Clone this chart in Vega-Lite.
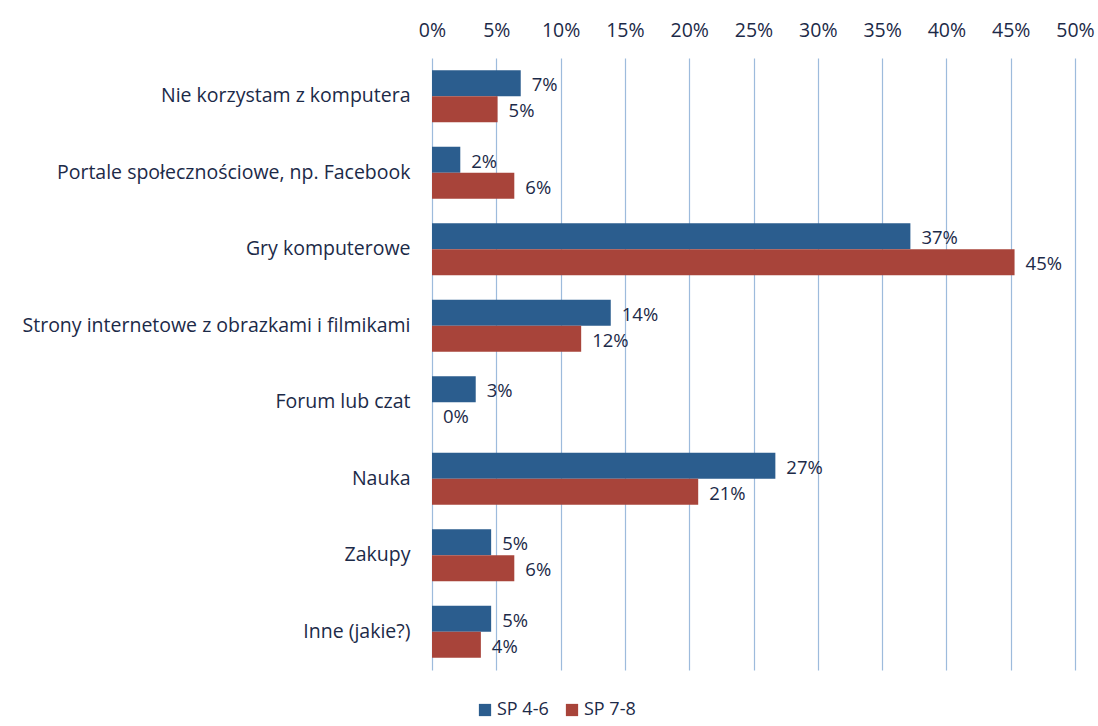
{
  "$schema": "https://vega.github.io/schema/vega-lite/v6.json",
  "width": 643,
  "height": 612,
  "autosize": {"type": "none"},
  "padding": {"left": 432, "top": 58, "right": 23, "bottom": 56},
  "background": "white",
  "config": {
    "view": {"stroke": null},
    "font": "Open Sans"
  },
  "data": {
    "values": [
      {"kategoria": "Nie korzystam z komputera", "grupa": "SP 4-6", "wartosc": 0.069},
      {"kategoria": "Nie korzystam z komputera", "grupa": "SP 7-8", "wartosc": 0.051},
      {"kategoria": "Portale społecznościowe, np. Facebook", "grupa": "SP 4-6", "wartosc": 0.022},
      {"kategoria": "Portale społecznościowe, np. Facebook", "grupa": "SP 7-8", "wartosc": 0.064},
      {"kategoria": "Gry komputerowe", "grupa": "SP 4-6", "wartosc": 0.372},
      {"kategoria": "Gry komputerowe", "grupa": "SP 7-8", "wartosc": 0.453},
      {"kategoria": "Strony internetowe z obrazkami i filmikami", "grupa": "SP 4-6", "wartosc": 0.139},
      {"kategoria": "Strony internetowe z obrazkami i filmikami", "grupa": "SP 7-8", "wartosc": 0.116},
      {"kategoria": "Forum lub czat", "grupa": "SP 4-6", "wartosc": 0.034},
      {"kategoria": "Forum lub czat", "grupa": "SP 7-8", "wartosc": 0.0},
      {"kategoria": "Nauka", "grupa": "SP 4-6", "wartosc": 0.267},
      {"kategoria": "Nauka", "grupa": "SP 7-8", "wartosc": 0.207},
      {"kategoria": "Zakupy", "grupa": "SP 4-6", "wartosc": 0.046},
      {"kategoria": "Zakupy", "grupa": "SP 7-8", "wartosc": 0.064},
      {"kategoria": "Inne (jakie?)", "grupa": "SP 4-6", "wartosc": 0.046},
      {"kategoria": "Inne (jakie?)", "grupa": "SP 7-8", "wartosc": 0.038}
    ]
  },
  "encoding": {
    "y": {
      "field": "kategoria",
      "type": "nominal",
      "sort": null,
      "scale": {"paddingInner": 0.32, "paddingOuter": 0.16},
      "axis": {
        "title": null,
        "domain": false,
        "ticks": false,
        "labelFontSize": 19.5,
        "labelColor": "#1c2a48",
        "labelPadding": 22,
        "labelLimit": 450
      }
    },
    "yOffset": {"field": "grupa", "type": "nominal", "sort": ["SP 4-6", "SP 7-8"]},
    "x": {
      "field": "wartosc",
      "type": "quantitative",
      "scale": {"domain": [0, 0.5], "nice": false},
      "axis": {
        "orient": "top",
        "title": null,
        "format": ".0%",
        "values": [0, 0.05, 0.1, 0.15, 0.2, 0.25, 0.3, 0.35, 0.4, 0.45, 0.5],
        "domain": false,
        "ticks": false,
        "grid": true,
        "gridColor": "#9dbbdc",
        "gridWidth": 1.2,
        "labelFontSize": 19.5,
        "labelColor": "#1c2a48",
        "labelPadding": 18,
        "labelFlush": false
      }
    }
  },
  "layer": [
    {
      "mark": {"type": "bar"},
      "encoding": {
        "color": {
          "field": "grupa",
          "type": "nominal",
          "sort": ["SP 4-6", "SP 7-8"],
          "scale": {"domain": ["SP 4-6", "SP 7-8"], "range": ["#2b5d8e", "#a8443a"]},
          "legend": {
            "title": null,
            "orient": "none",
            "direction": "horizontal",
            "legendX": 44,
            "legendY": 643,
            "symbolType": "square",
            "symbolSize": 150,
            "labelFontSize": 18,
            "labelColor": "#1c2a48",
            "columnPadding": 14,
            "labelOffset": 3
          }
        }
      }
    },
    {
      "mark": {"type": "text", "align": "left", "baseline": "middle", "dx": 11, "dy": 2, "fontSize": 18.5, "color": "#1c2a48"},
      "encoding": {
        "text": {"field": "wartosc", "type": "quantitative", "format": ".0%"}
      }
    }
  ]
}
